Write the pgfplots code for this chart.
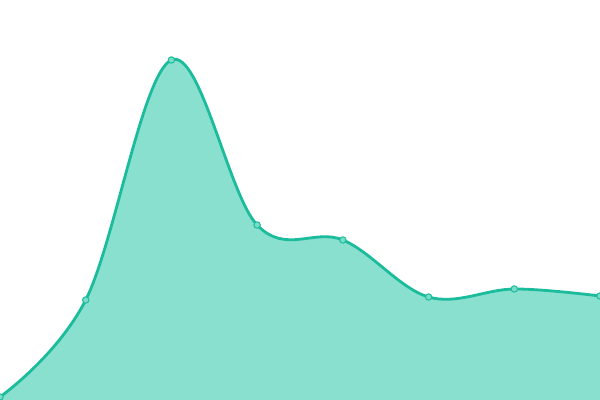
\documentclass[border=0pt]{standalone}
\usepackage{pgfplots}
\pgfplotsset{compat=1.18}
\definecolor{lineteal}{RGB}{26,188,156}
\definecolor{fillteal}{RGB}{137,224,207}
\definecolor{markfill}{RGB}{120,220,200}
\begin{document}
\begin{tikzpicture}
\path[use as bounding box] (0,0) rectangle (300pt,200pt);
\begin{axis}[
    at={(0,0)}, anchor=south west,
    scale only axis,
    width=300pt, height=200pt,
    xmin=0, xmax=600, ymin=0, ymax=400,
    hide axis,
]
% area
\addplot[
    smooth, tension=0.6,
    draw=none, fill=fillteal,
] coordinates {
    (0,3) (85.7,100) (171.4,340) (257.1,175) (342.9,160)
    (428.6,103) (514.3,111) (600,104)
} \closedcycle;
% line
\addplot[
    smooth, tension=0.6,
    draw=lineteal, line width=1.4pt,
] coordinates {
    (0,3) (85.7,100) (171.4,340) (257.1,175) (342.9,160)
    (428.6,103) (514.3,111) (600,104)
};
% markers
\addplot[
    only marks, mark=*, mark size=1.6pt,
    mark options={draw=lineteal, fill=markfill, line width=0.5pt},
] coordinates {
    (0,3) (85.7,100) (171.4,340) (257.1,175) (342.9,160)
    (428.6,103) (514.3,111) (600,104)
};
\end{axis}
\end{tikzpicture}
\end{document}
